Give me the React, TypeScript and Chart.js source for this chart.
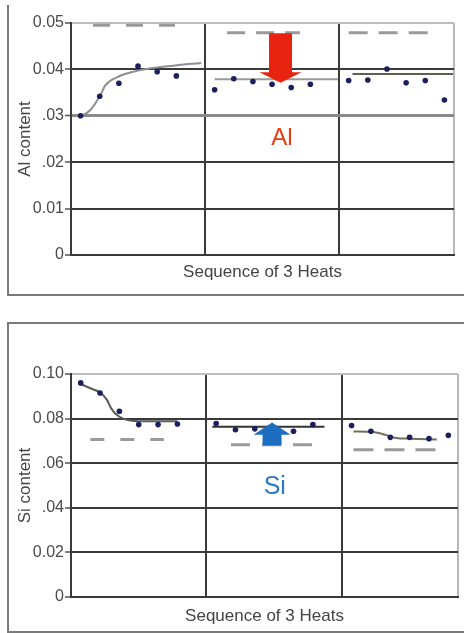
import React, { useEffect, useRef } from 'react';
import { Chart, registerables } from 'chart.js';

Chart.register(...registerables);

// ---- shared x positions (sample index within the 3-heat sequence) ----
const sampleX1 = [0.5, 1.5, 2.5, 3.5, 4.5, 5.5];
const sampleX2 = [7.5, 8.5, 9.5, 10.5, 11.5, 12.5];
const sampleX3 = [14.5, 15.5, 16.5, 17.5, 18.5, 19.5];
const heatDividers = [0, 7, 14, 20];

// ---- Al panel ----
const alTickLabels = ['0', '0.01', '.02', '.03', '0.04', '0.05'];
const alHeat1 = [0.0300, 0.0342, 0.0370, 0.0407, 0.0395, 0.0386];
const alHeat2 = [0.0356, 0.0380, 0.0374, 0.0368, 0.0361, 0.0368];
const alHeat3 = [0.0376, 0.0377, 0.0401, 0.0371, 0.0376, 0.0334];
const alTrend1X = [0.5, 1.0, 1.5, 1.8, 2.4, 3.25, 3.95, 5.35, 6.8];
const alTrend1Y = [0.0299, 0.0312, 0.0342, 0.0366, 0.0383, 0.0395, 0.0401, 0.0408, 0.0414];
const alTrend2X = [7.5, 13.95];
const alTrend2Y = [0.0379, 0.0379];
const alTrend3X = [14.7, 19.95];
const alTrend3Y = [0.0390, 0.0390];
const alLimitY = [0.0495, 0.0479, 0.0479];
const alLimitX = [[1.15, 5.43], [8.15, 11.96], [14.5, 18.7]];
const alArrowX = 10.94;
const alArrowY = [0.0478, 0.0394, 0.0371]; // tail, head base, tip
const alLabelPos = [11.02, 0.0252];

// ---- Si panel ----
const siTickLabels = ['0', '0.02', '.04', '.06', '0.08', '0.10'];
const siHeat1 = [0.0960, 0.0915, 0.0833, 0.0773, 0.0773, 0.0776];
const siHeat2 = [0.0778, 0.0750, 0.0754, 0.0752, 0.0743, 0.0773];
const siHeat3 = [0.0769, 0.0743, 0.0716, 0.0716, 0.0710, 0.0725];
const siTrend1X = [0.5, 1.0, 1.5, 1.85, 2.05, 2.3, 2.7, 3.5, 5.5];
const siTrend1Y = [0.0955, 0.0936, 0.0917, 0.0885, 0.0850, 0.0822, 0.0800, 0.0788, 0.0788];
const siTrend2X = [7.3, 13.1];
const siTrend2Y = [0.0763, 0.0763];
const siTrend3X = [14.6, 15.6, 16.3, 16.8, 17.5, 18.9];
const siTrend3Y = [0.0742, 0.0740, 0.0726, 0.0713, 0.0710, 0.0706];
const siLimitY = [0.0706, 0.0683, 0.0660];
const siLimitX = [[1.0, 4.8], [8.27, 12.5], [14.6, 18.85]];
const siArrowX = 10.39;
const siArrowY = [0.0679, 0.0728, 0.0782];
const siLabelPos = [10.53, 0.0492];

const FONT = "'Liberation Sans', Arial, sans-serif";

const pts = (xs: number[], ys: number[]) => xs.map((x, i) => ({ x, y: ys[i] }));

type PanelSpec = {
  yMax: number;
  yStep: number;
  tickLabels: string[];
  heats: number[][];
  trends: { x: number[]; y: number[]; color: string }[];
  limitY: number[];
  limitX: number[][];
  limitDash: number[][];
  arrowX: number;
  arrowY: number[];
  arrowColor: string;
  shaftHalf: number;
  headHalf: number;
  label: string;
  labelPos: number[];
  labelColor: string;
  labelSize: number;
  yTitle: string;
  padding: { top: number; right: number; left: number; bottom: number };
  xAxisHeight: number;
  xTitlePadBottom: number;
  grayIndex: number;
};

function makeChart(canvas: HTMLCanvasElement, s: PanelSpec) {
  const overlay = {
    id: 'overlay',
    afterDatasetsDraw(chart: any) {
      const { ctx, scales } = chart;
      const x = scales.x;
      const y = scales.y;
      const cx = x.getPixelForValue(s.arrowX);
      const yTail = y.getPixelForValue(s.arrowY[0]);
      const yBase = y.getPixelForValue(s.arrowY[1]);
      const yTip = y.getPixelForValue(s.arrowY[2]);
      ctx.save();
      ctx.fillStyle = s.arrowColor;
      ctx.beginPath();
      ctx.moveTo(cx - s.shaftHalf, yTail);
      ctx.lineTo(cx + s.shaftHalf, yTail);
      ctx.lineTo(cx + s.shaftHalf, yBase);
      ctx.lineTo(cx + s.headHalf, yBase);
      ctx.lineTo(cx, yTip);
      ctx.lineTo(cx - s.headHalf, yBase);
      ctx.lineTo(cx - s.shaftHalf, yBase);
      ctx.closePath();
      ctx.fill();
      ctx.fillStyle = s.labelColor;
      ctx.font = `${s.labelSize}px ${FONT}`;
      ctx.textAlign = 'center';
      ctx.textBaseline = 'middle';
      ctx.fillText(s.label, x.getPixelForValue(s.labelPos[0]), y.getPixelForValue(s.labelPos[1]));
      ctx.restore();
    },
  };

  const pointData = [
    ...pts(sampleX1, s.heats[0]),
    ...pts(sampleX2, s.heats[1]),
    ...pts(sampleX3, s.heats[2]),
  ];

  const datasets: any[] = [
    {
      data: pointData,
      showLine: false,
      pointRadius: 2.8,
      pointBackgroundColor: '#1b1f5e',
      pointBorderColor: '#1b1f5e',
      pointBorderWidth: 0,
    },
    ...s.trends.map((t) => ({
      data: pts(t.x, t.y),
      borderColor: t.color,
      borderWidth: 2,
      pointRadius: 0,
      tension: 0.4,
      cubicInterpolationMode: 'monotone',
    })),
    ...s.limitY.map((ly, i) => ({
      data: [
        { x: s.limitX[i][0], y: ly },
        { x: s.limitX[i][1], y: ly },
      ],
      borderColor: '#9a9a9a',
      borderWidth: 3,
      borderDash: s.limitDash[i],
      pointRadius: 0,
    })),
  ];

  return new Chart(canvas, {
    type: 'line',
    data: { datasets },
    plugins: [overlay],
    options: {
      responsive: false,
      animation: false,
      devicePixelRatio: 1,
      layout: { padding: s.padding },
      plugins: { legend: { display: false }, tooltip: { enabled: false } },
      scales: {
        x: {
          type: 'linear',
          min: 0,
          max: 20,
          afterBuildTicks: (scale: any) => {
            scale.ticks = heatDividers.map((v) => ({ value: v }));
          },
          afterFit: (scale: any) => {
            scale.height = s.xAxisHeight;
          },
          ticks: { display: false },
          grid: {
            drawTicks: false,
            lineWidth: 2,
            color: (ctx: any) => (ctx.tick && ctx.tick.value === 20 ? '#b8b8b8' : '#3a3a3a'),
          },
          border: { display: true, color: '#3a3a3a', width: 2 },
          title: {
            display: true,
            text: 'Sequence of 3 Heats',
            color: '#444',
            font: { family: FONT, size: 17 },
            padding: { top: 0, bottom: s.xTitlePadBottom },
          },
        },
        y: {
          type: 'linear',
          min: 0,
          max: s.yMax,
          afterFit: (scale: any) => {
            scale.width = 71;
          },
          ticks: {
            stepSize: s.yStep,
            padding: 1,
            color: '#4a4a4a',
            font: { family: FONT, size: 16 },
            callback: (_v: any, i: number) => s.tickLabels[i],
          },
          grid: {
            drawTicks: true,
            tickLength: 6,
            tickColor: '#555',
            tickWidth: 1.5,
            lineWidth: (ctx: any) => (ctx.index === s.grayIndex ? 3 : 2),
            color: (ctx: any) =>
              ctx.index === s.tickLabels.length - 1
                ? '#bdbdbd'
                : ctx.index === s.grayIndex
                ? '#8a8a8a'
                : '#3a3a3a',
          },
          border: { display: true, color: '#3a3a3a', width: 2 },
          title: {
            display: true,
            text: s.yTitle,
            color: '#444',
            font: { family: FONT, size: 17 },
            padding: { top: 15, bottom: 0 },
          },
        },
      },
    } as any,
  });
}

const alSpec: PanelSpec = {
  yMax: 0.05,
  yStep: 0.01,
  tickLabels: alTickLabels,
  heats: [alHeat1, alHeat2, alHeat3],
  trends: [
    { x: alTrend1X, y: alTrend1Y, color: '#8f8f8f' },
    { x: alTrend2X, y: alTrend2Y, color: '#9a9a9a' },
    { x: alTrend3X, y: alTrend3Y, color: '#5f5f52' },
  ],
  limitY: alLimitY,
  limitX: alLimitX,
  limitDash: [[17, 16], [18, 11], [19, 11]],
  arrowX: alArrowX,
  arrowY: alArrowY,
  arrowColor: '#e8230f',
  shaftHalf: 11.5,
  headHalf: 21,
  label: 'Al',
  labelPos: alLabelPos,
  labelColor: '#ea3c14',
  labelSize: 24,
  yTitle: 'Al content',
  padding: { top: 23, right: 10, left: 0, bottom: 0 },
  xAxisHeight: 41,
  xTitlePadBottom: 13,
  grayIndex: 3,
};

const siSpec: PanelSpec = {
  yMax: 0.1,
  yStep: 0.02,
  tickLabels: siTickLabels,
  heats: [siHeat1, siHeat2, siHeat3],
  trends: [
    { x: siTrend1X, y: siTrend1Y, color: '#5a5a5a' },
    { x: siTrend2X, y: siTrend2Y, color: '#333333' },
    { x: siTrend3X, y: siTrend3Y, color: '#6f6f5c' },
  ],
  limitY: siLimitY,
  limitX: siLimitX,
  limitDash: [[14, 16], [19, 12], [20, 11]],
  arrowX: siArrowX,
  arrowY: siArrowY,
  arrowColor: '#1d6ec0',
  shaftHalf: 9.5,
  headHalf: 18.5,
  label: 'Si',
  labelPos: siLabelPos,
  labelColor: '#2b7bc4',
  labelSize: 25,
  yTitle: 'Si content',
  padding: { top: 74, right: 6, left: 0, bottom: 0 },
  xAxisHeight: 36,
  xTitlePadBottom: 6,
  grayIndex: -1,
};

export default function App() {
  const topRef = useRef<HTMLCanvasElement>(null);
  const botRef = useRef<HTMLCanvasElement>(null);

  useEffect(() => {
    const c1 = makeChart(topRef.current!, alSpec);
    const c2 = makeChart(botRef.current!, siSpec);
    return () => {
      c1.destroy();
      c2.destroy();
    };
  }, []);

  return (
    <div
      style={{
        position: 'absolute',
        left: 0,
        top: 0,
        width: 464,
        height: 633,
        background: '#fff',
        overflow: 'hidden',
      }}
    >
      <div
        style={{
          position: 'absolute',
          left: 7,
          top: 5,
          width: 455,
          height: 289,
          borderLeft: '2px solid #7a7a7a',
          borderBottom: '2px solid #7a7a7a',
        }}
      />
      <div
        style={{
          position: 'absolute',
          left: 7,
          top: 322,
          width: 455,
          height: 307,
          borderTop: '2px solid #7a7a7a',
          borderLeft: '2px solid #7a7a7a',
          borderBottom: '2px solid #7a7a7a',
        }}
      />
      <canvas
        ref={topRef}
        width={464}
        height={296}
        style={{ position: 'absolute', left: 0, top: 0, width: 464, height: 296 }}
      />
      <canvas
        ref={botRef}
        width={464}
        height={333}
        style={{ position: 'absolute', left: 0, top: 300, width: 464, height: 333 }}
      />
    </div>
  );
}
